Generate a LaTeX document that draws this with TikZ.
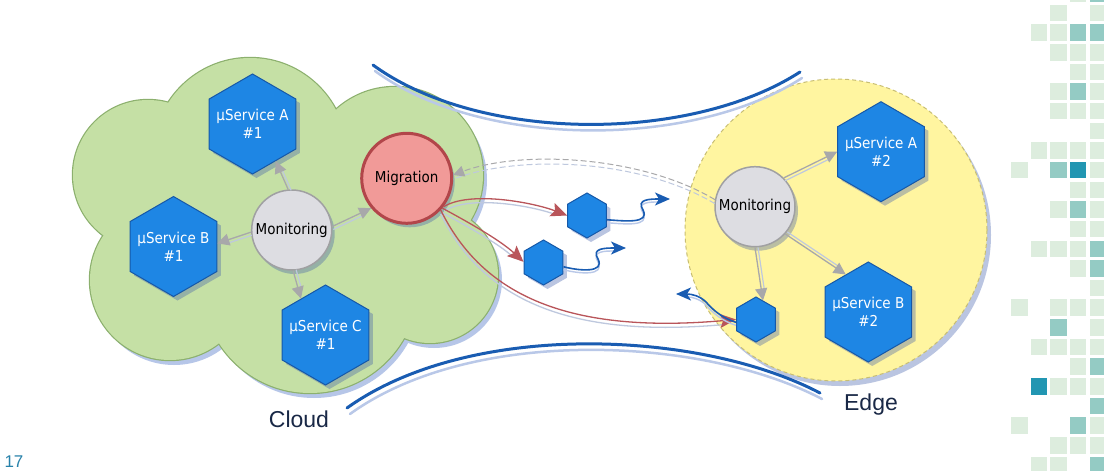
\documentclass[tikz,border=0pt]{standalone}
\usepackage{fontspec}
\setmainfont{Liberation Sans}
\newfontfamily\nodefont[FakeStretch=0.9]{DejaVu Sans}
\usetikzlibrary{shapes.geometric,arrows.meta,shadows}
\definecolor{cloudfill}{RGB}{197,224,165}
\definecolor{cloudborder}{RGB}{140,176,110}
\definecolor{cloudshadow}{RGB}{182,198,232}
\definecolor{hexfill}{RGB}{30,134,228}
\definecolor{hexborder}{RGB}{22,88,168}
\definecolor{shadowc}{RGB}{60,90,170}
\definecolor{migfill}{RGB}{241,154,152}
\definecolor{migborder}{RGB}{178,70,74}
\definecolor{monfill}{RGB}{221,221,226}
\definecolor{monborder}{RGB}{160,160,162}
\definecolor{edgefill}{RGB}{255,245,160}
\definecolor{edgeborder}{RGB}{200,190,115}
\definecolor{pipeblue}{RGB}{25,92,178}
\definecolor{pipeshadow}{RGB}{185,200,232}
\definecolor{redline}{RGB}{185,85,90}
\definecolor{arrgray}{RGB}{168,168,170}
\definecolor{lightline}{RGB}{190,200,222}
\definecolor{gl}{RGB}{221,237,222}
\definecolor{gm}{RGB}{148,203,196}
\definecolor{gd}{RGB}{34,150,178}
\definecolor{labeltext}{RGB}{25,40,70}
\definecolor{pagenumc}{RGB}{40,130,170}
\begin{document}
\begin{tikzpicture}[x=1pt,y=-1pt,
  nodetext/.style={font=\nodefont\fontsize{15}{18}\selectfont},
  hexbig/.style={regular polygon, regular polygon sides=6, shape border rotate=30,
    minimum size=100pt, inner sep=0pt, fill=hexfill, draw=hexborder, line width=1pt,
    drop shadow={shadow xshift=4pt, shadow yshift=-4pt, opacity=0.35, fill=shadowc}},
  hexsmall/.style={hexbig, minimum size=45pt},
  hextext/.style={text=white, nodetext, align=center, inner sep=0pt},
  moncircle/.style={circle, minimum size=80pt, inner sep=0pt, fill=monfill,
    draw=monborder, line width=1.5pt, text=black, nodetext,
    drop shadow={shadow xshift=3pt, shadow yshift=-4pt, opacity=0.35, fill=shadowc}},
  migcircle/.style={circle, minimum size=90pt, inner sep=0pt, fill=migfill,
    draw=migborder, line width=3pt, text=black, nodetext,
    drop shadow={shadow xshift=3pt, shadow yshift=-4pt, opacity=0.35, fill=shadowc}},
  edgecircle/.style={circle, minimum size=302pt, inner sep=0pt, fill=edgefill,
    draw=edgeborder, line width=1pt, dash pattern=on 4pt off 3pt,
    drop shadow={shadow xshift=4pt, shadow yshift=-5pt, opacity=0.35, fill=shadowc}},
  biglabel/.style={font=\fontsize{23}{27}\selectfont, text=labeltext, anchor=base, inner sep=0pt},
  pagenum/.style={font=\fontsize{17}{20}\selectfont, text=pagenumc, anchor=base, inner sep=0pt},
  pipe/.style={draw=pipeblue, line width=3pt, line cap=round},
  pipeshade/.style={draw=pipeshadow, line width=2.5pt, line cap=round},
  grayarrow/.style={draw=arrgray, line width=1.3pt, -{Triangle[length=12pt,width=12pt]}},
  grayshade/.style={draw=lightline, line width=1.2pt, shorten >=9pt},
  redarrow/.style={draw=redline, line width=1.3pt, -{Stealth[length=16pt,width=14pt,inset=3pt]}},
  redshade/.style={draw=lightline, line width=1.3pt, shorten >=14pt},
  bluewave/.style={draw=pipeblue, line width=1.6pt, -{Stealth[length=15pt,width=13pt,inset=4pt]}},
  blueshade/.style={draw=pipeshadow, line width=1.4pt, shorten >=12pt},
  dashgray/.style={draw=arrgray, line width=1pt, dash pattern=on 6pt off 3pt},
  dashlight/.style={draw=lightline, line width=1pt, dash pattern=on 6pt off 3pt}
]
\useasboundingbox (0,0) rectangle (1104,471);
\fill[white] (0,0) rectangle (1104,471);

% decorative grid on the right
\foreach \r/\c/\k in {-1/3/gl,-1/4/gm,0/2/gl,0/4/gl,1/1/gl,1/2/gl,1/3/gm,1/4/gm,2/2/gl,2/3/gl,2/4/gl,
  3/3/gl,3/4/gl,4/2/gl,4/3/gm,4/4/gl,5/2/gl,5/3/gl,5/4/gl,6/4/gl,7/1/gl,7/2/gl,7/3/gl,7/4/gl,
  8/0/gl,8/2/gm,8/3/gd,8/4/gl,9/3/gl,9/4/gl,10/2/gl,10/3/gm,10/4/gl,11/3/gl,11/4/gl,
  12/1/gl,12/2/gl,12/3/gl,12/4/gm,13/3/gl,13/4/gm,14/4/gl,15/0/gl,15/2/gl,15/3/gl,15/4/gl,
  16/2/gm,16/4/gl,17/1/gl,17/2/gl,17/3/gl,17/4/gl,18/3/gl,18/4/gm,19/1/gd,19/2/gl,19/3/gl,19/4/gl,
  20/4/gm,21/0/gl,21/3/gm,21/4/gl,22/2/gl,22/3/gl,22/4/gl,23/1/gl,23/2/gl,23/4/gm}
  {\fill[\k] ({1011+19.65*\c},{4.7+19.65*\r}) rectangle ++(16.5,16.5);}

% cloud
\def\lobes{250/155/97,148/175/75,170/280/80,310/285/108,395/175/88,430/275/68,290/230/120}
\foreach \cx/\cy/\cr in \lobes {\fill[cloudshadow] ({\cx+4},{\cy+5}) circle[radius=\cr pt];}
\foreach \cx/\cy/\cr in \lobes {\fill[cloudborder] (\cx,\cy) circle[radius=\cr pt+1.2pt];}
\foreach \cx/\cy/\cr in \lobes {\fill[cloudfill] (\cx,\cy) circle[radius=\cr pt];}

% edge region
\node[edgecircle] (edge) at (836,230) {};

% pipe curves
\draw[pipeshade] (375,71) .. controls (482,149) and (692,149) .. (802,78);
\draw[pipe] (373,65) .. controls (480,143) and (690,143) .. (800,72);
\draw[pipeshade] (350,414) .. controls (472,326) and (702,336) .. (822,399);
\draw[pipe] (347,408) .. controls (470,320) and (700,330) .. (820,393);

% nodes
\node[hexbig] (A1) at (252.5,124) {};
\node[hextext] (A1t) at (A1.center) {µService A\\\#1};
\node[hexbig] (B1) at (173.5,246.5) {};
\node[hextext] (B1t) at (B1.center) {µService B\\\#1};
\node[hexbig] (C1) at (325.5,335) {};
\node[hextext] (C1t) at (C1.center) {µService C\\\#1};
\node[moncircle] (M1) at (291.7,230) {Monitoring};
\node[migcircle] (Mig) at (406.7,178.3) {Migration};
\node[hexbig] (A2) at (881,151.7) {};
\node[hextext] (A2t) at (A2.center) {µService A\\\#2};
\node[hexbig] (B2) at (868.3,312) {};
\node[hextext] (B2t) at (B2.center) {µService B\\\#2};
\node[moncircle] (M2) at (755,206.7) {Monitoring};
\node[hexsmall] (S1) at (587,215.5) {};
\node[hexsmall] (S2) at (543.5,262.5) {};
\node[hexsmall] (S3) at (756,319.5) {};

% labels
\node[biglabel] (cloudlbl) at (299,427) {Cloud};
\node[biglabel] (edgelbl) at (871,410) {Edge};
\node[pagenum] (pg) at (14,467) {17};

% gray monitoring arrows (cloud)
\draw[grayshade, transform canvas={shift={(3,1)}}] (M1.95) -- (A1.-58);
\draw[grayarrow] (M1.95) -- (A1.-58);
\draw[grayshade, transform canvas={shift={(1,3)}}] (M1.183) -- (B1.4);
\draw[grayarrow] (M1.183) -- (B1.4);
\draw[grayshade, transform canvas={shift={(3,-1)}}] (M1.-88) -- (C1.124);
\draw[grayarrow] (M1.-88) -- (C1.124);
\draw[grayshade, transform canvas={shift={(1,3)}}] (M1.5) -- (Mig.220);
\draw[grayarrow] (M1.5) -- (Mig.220);

% gray monitoring arrows (edge)
\draw[grayshade, transform canvas={shift={(1,3)}}] (M2.45) -- (A2.180);
\draw[grayarrow] (M2.45) -- (A2.180);
\draw[grayshade, transform canvas={shift={(2,-2)}}] (M2.-42) -- (B2.121);
\draw[grayarrow] (M2.-42) -- (B2.121);
\draw[grayshade, transform canvas={shift={(3,0)}}] (M2.-90) -- (S3.70);
\draw[grayarrow] (M2.-90) -- (S3.70);

% dashed feedback
\draw[dashlight, transform canvas={shift={(0,4)}}] (M2.170) .. controls (640,155) and (520,150) .. (Mig.4);
\draw[dashgray, -{Triangle[length=11pt,width=11pt]}] (M2.170) .. controls (640,155) and (520,150) .. (Mig.4);

% red migration arrows
\draw[redshade, transform canvas={shift={(1,4)}}] (Mig.-38) .. controls (470,190) and (535,203) .. (S1.180);
\draw[redarrow] (Mig.-38) .. controls (470,190) and (535,203) .. (S1.180);
\draw[redshade, transform canvas={shift={(-1,4)}}] (Mig.-40) .. controls (468,222) and (500,240) .. (S2.178);
\draw[redarrow] (Mig.-40) .. controls (468,222) and (500,240) .. (S2.178);
\draw[redshade, transform canvas={shift={(0,4)}}] (Mig.-43) .. controls (480,290) and (560,335) .. (S3.180);
\draw[redarrow] (Mig.-43) .. controls (480,290) and (560,335) .. (S3.180);

% blue wavy arrows
\coordinate (W1) at (670,199);
\coordinate (W2) at (626,248);
\coordinate (W3) at (676,294);
\draw[blueshade, transform canvas={shift={(0,3)}}] (S1.-12) .. controls (625,221) and (650,224) .. (643,210) .. controls (636,199) and (650,199) .. (W1);
\draw[bluewave] (S1.-12) .. controls (625,221) and (650,224) .. (643,210) .. controls (636,199) and (650,199) .. (W1);
\draw[blueshade, transform canvas={shift={(0,3)}}] (S2.-12) .. controls (580,271) and (605,273) .. (598,259) .. controls (591,248) and (605,248) .. (W2);
\draw[bluewave] (S2.-12) .. controls (580,271) and (605,273) .. (598,259) .. controls (591,248) and (605,248) .. (W2);
\draw[blueshade, transform canvas={shift={(0,3)}}] (S3.188) .. controls (722,318) and (713,310) .. (706,302) .. controls (700,296) and (692,294) .. (W3);
\draw[bluewave] (S3.188) .. controls (722,318) and (713,310) .. (706,302) .. controls (700,296) and (692,294) .. (W3);
\end{tikzpicture}
\end{document}
